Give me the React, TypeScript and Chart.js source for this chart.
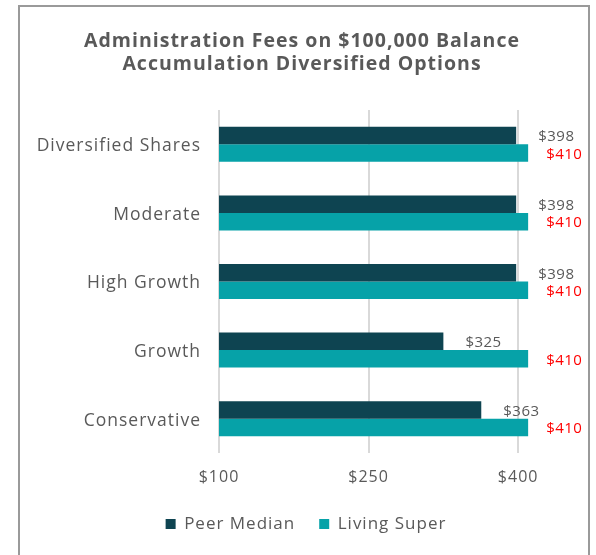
import React, { useEffect, useRef } from "react";
import { Chart, registerables } from "chart.js";

Chart.register(...registerables);

const categories = ["Diversified Shares", "Moderate", "High Growth", "Growth", "Conservative"];
const peerMedian = [398, 398, 398, 325, 363];
const livingSuper = [410, 410, 410, 410, 410];
const xTicks = [100, 250, 400];
const titleLines = ["Administration Fees on $100,000 Balance", "Accumulation Diversified Options"];

const FONT = "'Open Sans', sans-serif";
const GRAY = "#595959";
const SPACING = "1px";

const spacingPlugin = {
  id: "spacing",
  beforeUpdate(chart: any) {
    chart.ctx.letterSpacing = SPACING;
  },
  beforeLayout(chart: any) {
    chart.ctx.letterSpacing = SPACING;
  },
  afterLayout(chart: any) {
    if (chart.legend) {
      chart.legend.left += 4;
      chart.legend.right += 4;
    }
  },
  beforeDraw(chart: any) {
    chart.ctx.letterSpacing = SPACING;
  },
};

const valueLabels = {
  id: "valueLabels",
  afterDatasetsDraw(chart: any) {
    const ctx = chart.ctx;
    ctx.save();
    ctx.letterSpacing = "0.5px";
    ctx.font = `15px ${FONT}`;
    ctx.textAlign = "left";
    ctx.textBaseline = "middle";
    chart.data.datasets.forEach((ds: any, di: number) => {
      const meta = chart.getDatasetMeta(di);
      meta.data.forEach((bar: any, i: number) => {
        const v = ds.data[i];
        ctx.fillStyle = di === 0 ? GRAY : "#FF0000";
        const off = di === 0 ? 22 : 18;
        ctx.fillText("$" + v, bar.x + off, bar.y + 1.5);
      });
    });
    ctx.restore();
  },
};

export default function App() {
  const ref = useRef<HTMLCanvasElement>(null);
  useEffect(() => {
    if (!ref.current) return;
    const chart = new Chart(ref.current, {
      type: "bar",
      data: {
        labels: categories,
        datasets: [
          {
            label: "Peer Median",
            data: peerMedian,
            backgroundColor: "#0E4451",
            categoryPercentage: 0.51,
            barPercentage: 1,
          },
          {
            label: "Living Super",
            data: livingSuper,
            backgroundColor: "#06A2A8",
            categoryPercentage: 0.51,
            barPercentage: 1,
          },
        ],
      },
      options: {
        indexAxis: "y",
        responsive: false,
        animation: false,
        layout: { padding: { left: 26, right: 18, top: 0, bottom: 12.5 } },
        scales: {
          x: {
            min: 100,
            max: 460,
            afterBuildTicks: (scale: any) => {
              scale.ticks = xTicks.map((v) => ({ value: v }));
            },
            afterFit: (scale: any) => {
              scale.height = 38.5;
            },
            grid: { color: "#D9D9D9", lineWidth: 2, drawTicks: false },
            border: { display: false },
            ticks: {
              padding: 15,
              color: GRAY,
              font: { family: FONT, size: 16 },
              callback: (v: any) => "$" + v,
            },
          },
          y: {
            afterFit: (scale: any) => {
              scale.width = 219 - 26;
            },
            grid: { display: false, drawTicks: false },
            border: { display: false },
            ticks: {
              padding: 18,
              labelOffset: 2,
              color: GRAY,
              font: { family: FONT, size: 17.5 },
            },
          },
        },
        plugins: {
          title: {
            display: true,
            text: titleLines,
            color: GRAY,
            font: { family: FONT, size: 19.5, weight: "bold", lineHeight: 22.5 / 19.5 },
            padding: { top: 30.25, bottom: 34.75 },
          },
          legend: {
            position: "bottom",
            labels: {
              boxWidth: 10,
              boxHeight: 10,
              padding: 24,
              color: GRAY,
              font: { family: FONT, size: 17 },
            },
          },
          tooltip: { enabled: false },
        },
      },
      plugins: [spacingPlugin, valueLabels],
    } as any);
    return () => chart.destroy();
  }, []);

  return (
    <div style={{ position: "fixed", left: 0, top: 0, width: 596, height: 555, background: "#fff" }}>
      <div
        style={{
          position: "absolute",
          left: 18,
          top: 5,
          width: 572,
          height: 550,
          boxSizing: "border-box",
          border: "2px solid #9a9a9a",
          borderBottom: "none",
        }}
      />
      <canvas ref={ref} width={596} height={555} style={{ position: "absolute", left: 0, top: 0 }} />
    </div>
  );
}
